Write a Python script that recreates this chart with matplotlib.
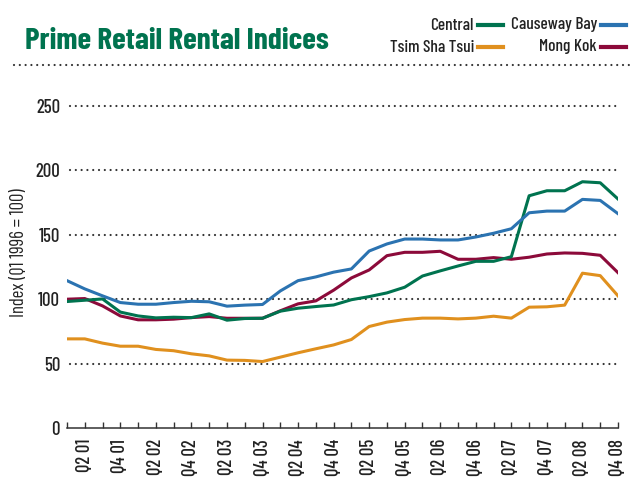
import matplotlib
matplotlib.use("Agg")
import matplotlib.pyplot as plt
from matplotlib.lines import Line2D

# data
quarters = ["Q%d %02d" % (q, y) for y in range(1, 9) for q in range(1, 5)]
central = [98.2, 99.2, 100.2, 90, 87, 85.5, 86, 85.7, 88.6, 83.7, 85, 85.2,
           90.7, 93, 94.3, 95.5, 99.6, 102, 104.9, 109.3, 118, 122, 125.8,
           129.4, 129.4, 133, 180.3, 184.2, 184.2, 191.2, 190.4, 177.8]
causeway = [114.4, 108, 102.6, 97.4, 96.1, 96.1, 97.4, 98.4, 98, 94.6, 95.4,
            95.9, 106.4, 114.4, 117.3, 121, 123.5, 137.4, 142.9, 146.7, 146.7,
            146, 146, 148.3, 151.2, 154.7, 167.1, 168.4, 168.4, 177.5, 176.7,
            166.4]
tst = [69.2, 69.2, 65.9, 63.5, 63.5, 61, 60, 57.6, 56, 52.7, 52.5, 51.6, 55,
       58.4, 61.5, 64.5, 68.7, 78.8, 82.2, 84.2, 85.3, 85.3, 84.7, 85.3, 86.8,
       85.3, 93.8, 94.1, 95.4, 120.2, 118.3, 102.6]
mongkok = [100, 100.5, 94.8, 87, 84, 84, 84.5, 85.7, 86.5, 85.2, 85.2, 85.2,
           91, 96.4, 98.7, 107, 116.5, 122.7, 133.8, 136.4, 136.4, 137.2, 131,
           131, 132.3, 131, 132.6, 135.1, 135.9, 135.6, 134.1, 120.6]
yticks = [0, 50, 100, 150, 200, 250]

GREEN = "#00734f"
BLUE = "#2b73b1"
ORANGE = "#e0901e"
MAROON = "#8c0a3a"
DARK = "#333333"
TEXT = "#222222"

plt.rcParams["font.family"] = ["Barlow Condensed", "DejaVu Sans"]
plt.rcParams["font.weight"] = 500

fig = plt.figure(figsize=(6.36, 4.79), dpi=100)
ax = fig.add_axes([67 / 636, 1 - 428 / 479, 551 / 636, 322 / 479])

x = list(range(len(quarters)))

# dotted gridlines
for v in yticks[1:]:
    ax.axhline(v, xmin=0.005, xmax=1.003, color=DARK, lw=1.6,
               dashes=(0.01, 2.6), dash_capstyle="round", clip_on=False,
               zorder=1)

ax.plot(x, tst, color=ORANGE, lw=2.2, zorder=3)
ax.plot(x, mongkok, color=MAROON, lw=2.2, zorder=3)
ax.plot(x, central, color=GREEN, lw=2.2, zorder=3)
ax.plot(x, causeway, color=BLUE, lw=2.2, zorder=3)

ax.set_xlim(0, len(quarters) - 1)
ax.set_ylim(0, 250)
for s in ["top", "right", "left"]:
    ax.spines[s].set_visible(False)
ax.spines["bottom"].set_color(DARK)
ax.spines["bottom"].set_linewidth(1.1)

ax.set_xticks(x)
ax.set_xticklabels([q if i % 2 == 1 else "" for i, q in enumerate(quarters)],
                   rotation=90, fontsize=13.5, color=TEXT)
ax.tick_params(axis="x", direction="in", length=4, width=1, color=DARK, pad=8)
ax.set_yticks(yticks)
ax.set_yticklabels([str(v) for v in yticks], fontsize=13.5, color=TEXT)
ax.tick_params(axis="y", length=0, pad=5)

ax.set_ylabel("Index (Q1 1996 = 100)", fontsize=13.5, color=TEXT)
ax.yaxis.set_label_coords(-0.071, 0.545)

# title and separator
fig.text(25 / 636, 1 - 49 / 479, "Prime Retail Rental Indices", color=GREEN,
         fontsize=22.5, fontweight="bold", va="baseline", ha="left")
fig.add_artist(Line2D([14 / 636, 634 / 636], [1 - 65 / 479, 1 - 65 / 479],
                      color=DARK, lw=1.6, dashes=(0.01, 2.6),
                      dash_capstyle="round", transform=fig.transFigure))

# legend
legend_items = [("Central", GREEN, 474, 25), ("Causeway Bay", BLUE, 597, 25),
                ("Tsim Sha Tsui", ORANGE, 474, 47), ("Mong Kok", MAROON, 597, 47)]
for name, col, tx, ty in legend_items:
    fig.text(tx / 636, 1 - ty / 479, name, fontsize=12.5, color=TEXT,
             ha="right", va="center")
    fig.add_artist(Line2D([(tx + 4) / 636, (tx + 29) / 636],
                          [1 - ty / 479, 1 - ty / 479], color=col, lw=3,
                          transform=fig.transFigure))

fig.savefig("out.png", dpi=100)
